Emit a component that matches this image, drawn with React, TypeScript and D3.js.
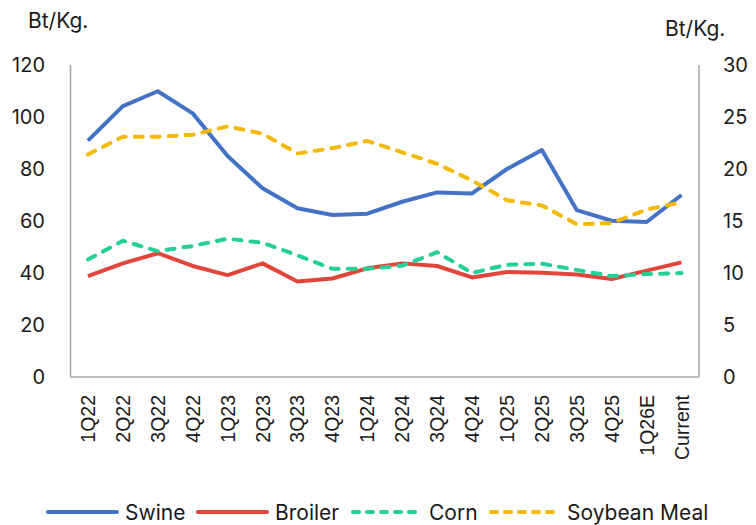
import * as d3 from "d3";
import React from "react";

// quarters on the x axis
const categories = [
  "1Q22", "2Q22", "3Q22", "4Q22", "1Q23", "2Q23", "3Q23", "4Q23", "1Q24",
  "2Q24", "3Q24", "4Q24", "1Q25", "2Q25", "3Q25", "4Q25", "1Q26E", "Current",
];

// left axis (Bt/Kg.)
const swine = [90.9, 104.2, 109.9, 101.4, 85.0, 72.6, 64.9, 62.3, 62.8, 67.4, 71.0, 70.6, 80.0, 87.3, 64.2, 60.1, 59.6, 70.0];
const broiler = [38.8, 43.7, 47.6, 42.7, 39.2, 43.7, 36.7, 37.9, 41.8, 43.7, 42.7, 38.3, 40.4, 40.1, 39.4, 37.7, 40.9, 44.1];
// right axis (Bt/Kg.)
const corn = [11.3, 13.1, 12.1, 12.6, 13.3, 12.9, 11.7, 10.4, 10.4, 10.7, 12.0, 10.0, 10.8, 10.9, 10.3, 9.7, 9.9, 10.0];
const soybean = [21.4, 23.1, 23.1, 23.3, 24.1, 23.4, 21.5, 22.0, 22.7, 21.6, 20.5, 18.9, 17.0, 16.5, 14.7, 14.8, 16.1, 16.8];

const leftTicks = [0, 20, 40, 60, 80, 100, 120];
const rightTicks = [0, 5, 10, 15, 20, 25, 30];

const W = 756;
const H = 525;
const plot = { left: 70.5, right: 699, top: 65, bottom: 377 };
const tickFont = "Inter, 'Noto Sans', sans-serif";
const catFont = "'Liberation Sans', Arial, sans-serif";
const axisColor = "#A6A6A6";

const App: React.FC = () => {
  const x = d3
    .scaleBand<string>()
    .domain(categories)
    .range([plot.left, plot.right]);
  const cx = (c: string) => x(c)! + x.bandwidth() / 2;

  const yL = d3.scaleLinear().domain([0, 120]).range([plot.bottom, plot.top]);
  const yR = d3.scaleLinear().domain([0, 30]).range([plot.bottom, plot.top]);

  const lineL = d3
    .line<number>()
    .x((_d, i) => cx(categories[i]))
    .y((d) => yL(d));
  const lineR = d3
    .line<number>()
    .x((_d, i) => cx(categories[i]))
    .y((d) => yR(d));

  const series = [
    { name: "Swine", path: lineL(swine), color: "#4472C4", dash: null, lx: 48, tx: 125 },
    { name: "Broiler", path: lineL(broiler), color: "#E0473A", dash: null, lx: 198, tx: 275 },
    { name: "Corn", path: lineR(corn), color: "#25CF98", dash: "8,9", lx: 353, tx: 429 },
    { name: "Soybean Meal", path: lineR(soybean), color: "#F2BA0A", dash: "8,9", lx: 491, tx: 567 },
  ];

  return (
    <svg width={W} height={H} style={{ position: "absolute", left: 0, top: 0, background: "#fff" }}>
      {/* axis titles */}
      <text x={28} y={28} fontFamily={tickFont} fontSize={21} fill="#1a1a1a">Bt/Kg.</text>
      <text x={665} y={36} fontFamily={tickFont} fontSize={21} fill="#1a1a1a">Bt/Kg.</text>

      {/* axis lines */}
      <line x1={plot.left} x2={plot.left} y1={plot.top} y2={plot.bottom} stroke={axisColor} strokeWidth={1.5} />
      <line x1={plot.right} x2={plot.right} y1={plot.top} y2={plot.bottom} stroke={axisColor} strokeWidth={1.5} />
      <line x1={plot.left} x2={plot.right} y1={plot.bottom} y2={plot.bottom} stroke={axisColor} strokeWidth={1.5} />

      {leftTicks.map((t) => (
        <text key={"l" + t} x={45} y={yL(t)} dy="0.36em" textAnchor="end"
          fontFamily={tickFont} fontSize={20} fill="#1a1a1a">{t}</text>
      ))}
      {rightTicks.map((t) => (
        <text key={"r" + t} x={723} y={yR(t)} dy="0.36em" textAnchor="start"
          fontFamily={tickFont} fontSize={20} fill="#1a1a1a">{t}</text>
      ))}

      {categories.map((c) => (
        <text key={c} transform={`translate(${cx(c) + 7},395) rotate(-90)`} textAnchor="end"
          fontFamily={catFont} fontSize={19.5} fill="#1a1a1a">{c}</text>
      ))}

      {series.map((s) => (
        <path key={s.name} d={s.path ?? ""} fill="none" stroke={s.color} strokeWidth={4}
          strokeDasharray={s.dash ?? undefined} strokeLinecap={s.dash ? "round" : "butt"}
          strokeLinejoin="round" />
      ))}

      {/* legend */}
      {series.map((s) => (
        <g key={"lg" + s.name}>
          <line x1={s.lx} x2={s.lx + 69} y1={512} y2={512} stroke={s.color} strokeWidth={4}
            strokeLinecap="round" strokeDasharray={s.dash ? "6,8" : undefined} />
          <text x={s.tx} y={512} dy="0.36em" fontFamily={tickFont} fontSize={21} fill="#1a1a1a">{s.name}</text>
        </g>
      ))}
    </svg>
  );
};

export default App;
